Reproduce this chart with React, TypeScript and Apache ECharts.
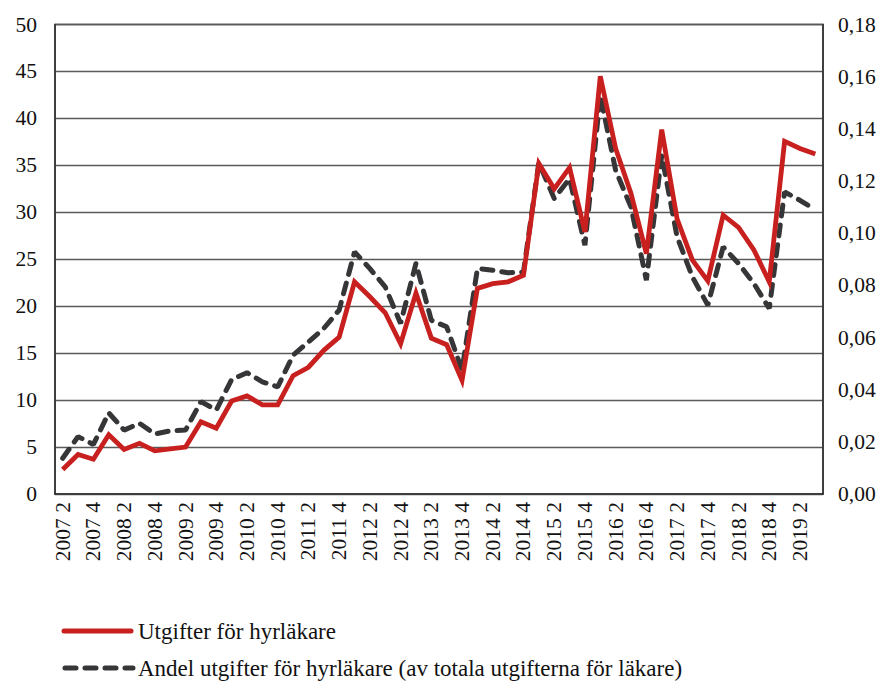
import React, { useEffect, useRef } from "react";
import * as echarts from "echarts";

const years = [2007, 2008, 2009, 2010, 2011, 2012, 2013, 2014, 2015, 2016, 2017, 2018, 2019];
const categories: string[] = [];
years.forEach((y) => {
  [1, 2, 3, 4].forEach((q) => {
    if ((y === 2007 && q < 2) || (y === 2019 && q > 3)) return;
    categories.push(`${y} ${q}`);
  });
});

const seriesNames = [
  "Utgifter för hyrläkare",
  "Andel utgifter för hyrläkare (av totala utgifterna för läkare)",
];

// Utgifter för hyrläkare (left axis)
const utgifter = [
  2.6, 4.2, 3.7, 6.3, 4.75, 5.4, 4.6, 4.8, 5.0, 7.7, 7.0, 9.9, 10.45, 9.5, 9.5,
  12.6, 13.5, 15.3, 16.7, 22.6, 21.0, 19.3, 16.0, 21.4, 16.6, 15.9, 12.1, 21.9,
  22.4, 22.6, 23.3, 35.2, 32.5, 34.75, 27.9, 44.5, 36.8, 32.0, 25.6, 38.8, 29.3,
  24.9, 22.7, 29.7, 28.4, 26.0, 22.6, 37.55, 36.8, 36.2,
];

// Andel utgifter (right axis)
const andel = [
  0.0137, 0.022, 0.019, 0.0311, 0.0245, 0.0271, 0.023, 0.0242, 0.0245, 0.0354,
  0.0322, 0.0439, 0.0465, 0.043, 0.0411, 0.0532, 0.0583, 0.0635, 0.0705, 0.0928,
  0.0864, 0.0794, 0.0654, 0.0884, 0.0666, 0.0641, 0.0475, 0.0864, 0.0858,
  0.0848, 0.0851, 0.127, 0.1133, 0.1209, 0.0954, 0.1528, 0.1241, 0.11, 0.082,
  0.1298, 0.0986, 0.0832, 0.0724, 0.0947, 0.0884, 0.0807, 0.0711, 0.1158,
  0.1126, 0.109,
];

const FONT = "Liberation Serif";
const RED = "#C8201F";
const DARK = "#363638";
const DASH = [11, 9];

export default function App() {
  const ref = useRef<HTMLDivElement>(null);
  useEffect(() => {
    if (!ref.current) return;
    const chart = echarts.init(ref.current, undefined, { renderer: "svg" });
    chart.setOption({
      animation: false,
      backgroundColor: "#ffffff",
      textStyle: { fontFamily: FONT },
      grid: {
        left: 55,
        right: 65,
        top: 24.5,
        bottom: 188,
        containLabel: false,
        show: true,
        borderColor: "#333333",
        borderWidth: 1.5,
        backgroundColor: "transparent",
      },
      graphic: [
        {
          type: "line",
          shape: { x1: 64, y1: 631, x2: 131, y2: 631 },
          style: { stroke: RED, lineWidth: 5, lineCap: "round" },
        },
        {
          type: "text",
          x: 138,
          y: 631,
          style: {
            text: seriesNames[0],
            fontFamily: FONT,
            fontSize: 23,
            fill: "#111",
            verticalAlign: "middle",
          },
        },
        {
          type: "line",
          shape: { x1: 65, y1: 668, x2: 133, y2: 668 },
          style: { stroke: DARK, lineWidth: 5, lineCap: "round", lineDash: DASH },
        },
        {
          type: "text",
          x: 138,
          y: 668,
          style: {
            text: seriesNames[1],
            fontFamily: FONT,
            fontSize: 23,
            fill: "#111",
            verticalAlign: "middle",
          },
        },
      ],
      xAxis: {
        type: "category",
        data: categories,
        boundaryGap: true,
        axisLine: { show: true, lineStyle: { color: "#333", width: 1.5 } },
        axisTick: { show: false },
        axisLabel: {
          interval: 1,
          rotate: 90,
          margin: 8,
          fontFamily: FONT,
          fontSize: 21.5,
          color: "#111",
        },
      },
      yAxis: [
        {
          type: "value",
          min: 0,
          max: 50,
          interval: 5,
          axisLine: { show: true, lineStyle: { color: "#333", width: 1.5 } },
          axisTick: { show: false },
          axisLabel: { margin: 18, fontFamily: FONT, fontSize: 21.5, color: "#111" },
          splitLine: { show: true, lineStyle: { color: "#5a5a5a", width: 1.3 } },
        },
        {
          type: "value",
          min: 0,
          max: 0.18,
          interval: 0.02,
          position: "right",
          axisLine: { show: true, lineStyle: { color: "#333", width: 1.5 } },
          axisTick: { show: false },
          axisLabel: {
            margin: 15,
            fontFamily: FONT,
            fontSize: 21.5,
            color: "#111",
            formatter: (v: number) => v.toFixed(2).replace(".", ","),
          },
          splitLine: { show: false },
        },
      ],
      series: [
        {
          name: seriesNames[0],
          type: "line",
          yAxisIndex: 0,
          data: utgifter,
          showSymbol: false,
          symbol: "none",
          lineStyle: { color: RED, width: 4.8, join: "miter" },
          itemStyle: { color: RED },
          z: 3,
        },
        {
          name: seriesNames[1],
          type: "line",
          yAxisIndex: 1,
          data: andel,
          showSymbol: false,
          symbol: "none",
          lineStyle: { color: DARK, width: 5, type: DASH, cap: "round" },
          itemStyle: { color: DARK },
          z: 2,
        },
      ],
    });
    return () => chart.dispose();
  }, []);
  return <div ref={ref} style={{ width: 888, height: 682, position: "absolute", left: 0, top: 0 }} />;
}
